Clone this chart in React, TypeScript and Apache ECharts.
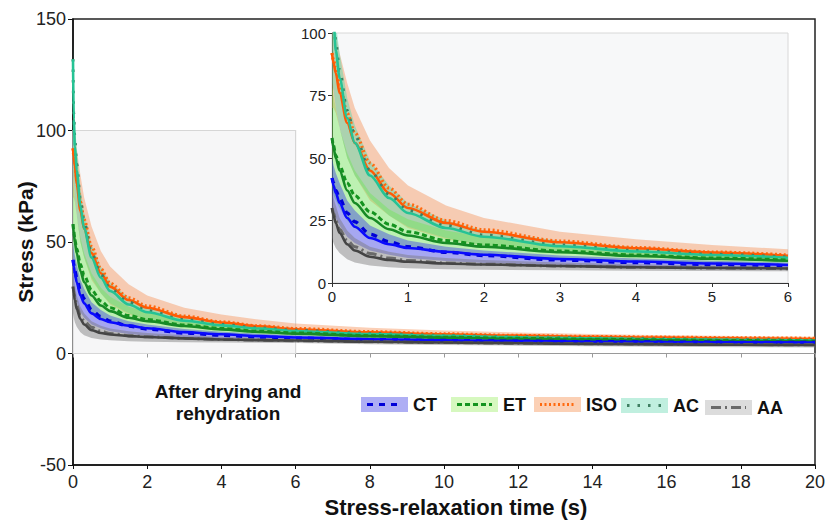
import React, { useEffect, useRef } from "react";
import * as echarts from "echarts";

// Stress-relaxation time (s)
const TIME = [0, 0.02, 0.05, 0.1, 0.2, 0.3, 0.5, 0.75, 1, 1.5, 2, 3, 4, 5, 6, 8, 10, 12, 14, 16, 18, 20];

// CT
const ctFit = [42, 39, 36, 32, 26, 22.5, 18, 15.5, 14, 12.5, 11.3, 9.6, 8.6, 7.8, 7.2, 6.4, 5.9, 5.6, 5.3, 5.1, 5.0, 4.9];
const ctMean = [42, 40, 37, 34, 28, 24.5, 19.5, 16.5, 14.5, 12.3, 11, 9.2, 8.2, 7.4, 6.9, 6.2, 5.8, 5.5, 5.3, 5.1, 5.0, 4.9];
const ctUpper = [50, 47, 44, 40, 33, 29, 23, 19.5, 17, 14.5, 13, 11, 9.8, 8.9, 8.2, 7.3, 6.7, 6.3, 6.0, 5.8, 5.6, 5.4];
const ctLower = [30, 28, 26, 23, 18.5, 16, 13, 11.3, 10, 8.8, 8, 7, 6.4, 5.9, 5.6, 5.1, 4.8, 4.6, 4.4, 4.3, 4.2, 4.1];

// ET
const etFit = [58, 54, 50, 45, 37, 32, 26, 21.5, 19, 16, 14.5, 12.3, 10.8, 9.7, 8.9, 7.8, 7.1, 6.6, 6.2, 5.9, 5.6, 5.4];
const etMean = [58, 55, 51, 47, 40, 35, 28.5, 23.5, 20.5, 17, 15.2, 12.8, 11.2, 10, 9.2, 8, 7.3, 6.8, 6.4, 6.1, 5.8, 5.6];
const etUpper = [80, 75, 70, 62, 52, 45, 36, 29.5, 25.5, 21, 18.5, 15.3, 13.3, 11.9, 10.9, 9.4, 8.5, 7.9, 7.4, 7.0, 6.7, 6.4];
const etLower = [38, 35, 33, 30, 25, 22, 18, 15.5, 14, 12, 11, 9.5, 8.5, 7.8, 7.2, 6.4, 5.9, 5.5, 5.2, 5.0, 4.8, 4.6];

// ISO
const isoFit = [92, 88, 84, 76, 64, 56, 45, 36, 30, 24, 20.5, 16.3, 13.9, 12.2, 10.9, 9.5, 8.6, 8.0, 7.5, 7.1, 6.8, 6.5];
const isoMean = [92, 89, 86, 79, 68, 60, 48, 38, 31.5, 25, 21.3, 16.8, 14.2, 12.4, 11.2, 9.8, 8.8, 8.1, 7.6, 7.3, 7.0, 6.8];
const isoUpper = [114, 106, 100, 92, 80, 70, 57, 46, 39, 31, 26, 20.5, 17.5, 15.2, 13.5, 11.5, 10.3, 9.4, 8.7, 8.2, 7.8, 7.5];
const isoLower = [70, 70, 68, 62, 50, 43, 33, 27, 22, 17.5, 15, 12, 10.4, 9.2, 8.4, 7.5, 6.9, 6.5, 6.2, 6.0, 5.8, 5.6];

// AC
const acFit = [132, 105, 93, 82, 66, 56, 43, 34, 28, 22, 18.5, 14.7, 12.6, 11.2, 10.1, 8.7, 7.9, 7.3, 6.8, 6.4, 6.1, 5.8];
const acMean = [132, 108, 96, 85, 69, 59, 45, 35.5, 29, 23, 19.2, 15.2, 13, 11.5, 10.4, 9, 8.1, 7.5, 7, 6.6, 6.3, 6.0];
const acUpper = [140, 118, 104, 92, 74, 63, 49, 39, 32, 25, 21, 16.8, 14.3, 12.6, 11.4, 9.8, 8.8, 8.1, 7.6, 7.2, 6.9, 6.6];
const acLower = [80, 77, 70, 62, 50, 43, 34, 27, 22.5, 18, 15, 12, 10.5, 9.4, 8.6, 7.6, 7, 6.5, 6.1, 5.8, 5.5, 5.2];

// AA
const aaFit = [30, 27, 24, 20, 15.5, 13, 10.5, 9.2, 8.5, 7.8, 7.4, 6.8, 6.3, 6.0, 5.8, 5.3, 4.9, 4.6, 4.3, 4.1, 3.9, 3.8];
const aaMean = [30, 28, 25, 21.5, 17, 14.5, 11.8, 10, 9, 8, 7.5, 6.8, 6.3, 6.0, 5.7, 5.3, 4.9, 4.6, 4.4, 4.2, 4.0, 3.9];
const aaUpper = [38, 34, 31, 26, 21, 18, 14.5, 12.5, 11.2, 10, 9.2, 8.2, 7.5, 7.0, 6.7, 6.2, 5.8, 5.5, 5.2, 5.0, 4.8, 4.7];
const aaLower = [18, 16, 14, 12, 9.5, 8.2, 7, 6.3, 5.9, 5.5, 5.3, 5.1, 4.9, 4.8, 4.7, 4.2, 3.8, 3.5, 3.2, 3.0, 2.8, 2.7];

const MAIN_X_TICKS = [0, 20, 2];
const MAIN_Y_TICKS = [-50, 150, 50];
const INSET_X_TICKS = [0, 6, 1];
const INSET_Y_TICKS = [0, 100, 25];
const ZOOM_BOX = { x0: 0, x1: 6, y0: 0, y1: 100 };

const LEGEND_NOTE = "After drying and\nrehydration";
const X_TITLE = "Stress-relaxation time (s)";
const Y_TITLE = "Stress (kPa)";

const FONT = "'Liberation Sans', Arial, Helvetica, sans-serif";

type Group = {
  name: string;
  fit: number[];
  mean: number[];
  upper: number[];
  lower: number[];
  fitColor: string;
  meanColor: string;
  dash: number[];
  meanWidth: number;
  band: string;
  swatch: string;
};

const GROUPS: Group[] = [
  { name: "ISO", fit: isoFit, mean: isoMean, upper: isoUpper, lower: isoLower, fitColor: "#ff5a05", meanColor: "#ff6a10", dash: [2, 2.5], meanWidth: 3.2, band: "rgba(245,140,80,0.42)", swatch: "#fbd0b5" },
  { name: "AC", fit: acFit, mean: acMean, upper: acUpper, lower: acLower, fitColor: "#25c394", meanColor: "#3f7f62", dash: [2.5, 8], meanWidth: 3, band: "rgba(60,220,170,0.40)", swatch: "#c0efdf" },
  { name: "ET", fit: etFit, mean: etMean, upper: etUpper, lower: etLower, fitColor: "#178a26", meanColor: "#14941f", dash: [5, 3], meanWidth: 3, band: "rgba(110,230,80,0.42)", swatch: "#d6f8bf" },
  { name: "CT", fit: ctFit, mean: ctMean, upper: ctUpper, lower: ctLower, fitColor: "#0a0aff", meanColor: "#0000d8", dash: [6, 6], meanWidth: 3.4, band: "rgba(45,45,230,0.40)", swatch: "#aeaef4" },
  { name: "AA", fit: aaFit, mean: aaMean, upper: aaUpper, lower: aaLower, fitColor: "#454545", meanColor: "#6a6a6a", dash: [10, 4, 2, 4], meanWidth: 3, band: "rgba(120,120,120,0.45)", swatch: "#dcdcdc" },
];

const LEGEND_ORDER = ["CT", "ET", "ISO", "AC", "AA"];

export default function App() {
  const ref = useRef<HTMLDivElement>(null);

  useEffect(() => {
    if (!ref.current) return;
    const chart = echarts.init(ref.current, null, { renderer: "svg" });

    const idxFor = (maxT: number) => TIME.map((t, i) => i).filter((i) => TIME[i] <= maxT);

    const bandSeries = (g: Group, xi: number, yi: number, maxT: number) => {
      const ids = idxFor(maxT);
      return {
        type: "custom",
        name: g.name + " band",
        xAxisIndex: xi,
        yAxisIndex: yi,
        clip: true,
        silent: true,
        z: 3,
        data: [[0, 0]],
        renderItem: (_params: any, api: any) => {
          const pts: number[][] = [];
          ids.forEach((i) => pts.push(api.coord([TIME[i], g.upper[i]])));
          [...ids].reverse().forEach((i) => pts.push(api.coord([TIME[i], g.lower[i]])));
          return { type: "polygon", shape: { points: pts }, style: { fill: g.band } };
        },
      };
    };

    const lineSeries = (g: Group, which: "fit" | "mean", xi: number, yi: number, maxT: number) => {
      const ids = idxFor(maxT);
      const arr = which === "fit" ? g.fit : g.mean;
      return {
        type: "line",
        name: g.name + " " + which,
        xAxisIndex: xi,
        yAxisIndex: yi,
        data: ids.map((i) => [TIME[i], arr[i]]),
        showSymbol: false,
        symbol: "none",
        smooth: 0.3,
        smoothMonotone: "x",
        clip: true,
        silent: true,
        z: 4,
        lineStyle:
          which === "fit"
            ? { color: g.fitColor, width: 2.6, type: "solid" }
            : { color: g.meanColor, width: g.meanWidth, type: g.dash, cap: "butt" },
      };
    };

    const series: any[] = [];
    // zoom region box in main plot
    series.push({
      type: "custom",
      name: "zoom box",
      xAxisIndex: 0,
      yAxisIndex: 0,
      silent: true,
      z: 1,
      data: [[0, 0]],
      renderItem: (_p: any, api: any) => {
        const a = api.coord([ZOOM_BOX.x0, ZOOM_BOX.y1]);
        const b = api.coord([ZOOM_BOX.x1, ZOOM_BOX.y0]);
        return {
          type: "rect",
          shape: { x: a[0], y: a[1], width: b[0] - a[0], height: b[1] - a[1] },
          style: { fill: "#f6f6f7", stroke: "#d6d6d6", lineWidth: 1.2 },
        };
      },
    });

    // main plot
    GROUPS.forEach((g) => series.push(bandSeries(g, 0, 0, 20)));
    GROUPS.forEach((g) => {
      series.push(lineSeries(g, "mean", 0, 0, 20));
      series.push(lineSeries(g, "fit", 0, 0, 20));
    });
    // inset
    GROUPS.forEach((g) => series.push(bandSeries(g, 2, 1, 6)));
    GROUPS.forEach((g) => {
      series.push(lineSeries(g, "mean", 2, 1, 6));
      series.push(lineSeries(g, "fit", 2, 1, 6));
    });

    // legend graphics
    const swX = [361, 451, 534, 621, 705];
    const swY = [397, 397, 397, 398, 400];
    const legendEls: any[] = [];
    LEGEND_ORDER.forEach((n, k) => {
      const g = GROUPS.find((gg) => gg.name === n)!;
      const x = swX[k];
      const y = swY[k];
      legendEls.push({
        type: "rect",
        shape: { x, y, width: 47, height: 15 },
        style: { fill: g.swatch, stroke: "none" },
        silent: true,
      });
      legendEls.push({
        type: "line",
        shape: { x1: x + 6, y1: y + 7.5, x2: x + 41, y2: y + 7.5 },
        style: { stroke: g.meanColor, lineWidth: 3, lineDash: g.dash },
        silent: true,
      });
      legendEls.push({
        type: "text",
        x: x + 52,
        y: y + 8,
        style: {
          text: n,
          fontSize: 18,
          fontWeight: "bold",
          fontFamily: FONT,
          fill: "#111",
          align: "left",
          verticalAlign: "middle",
        },
        silent: true,
      });
    });
    legendEls.push({
      type: "text",
      x: 228,
      y: 402.5,
      style: {
        text: LEGEND_NOTE,
        fontSize: 19,
        fontWeight: "bold",
        fontFamily: FONT,
        fill: "#111",
        align: "center",
        verticalAlign: "middle",
        lineHeight: 22,
      },
      silent: true,
    });

    const option: any = {
      animation: false,
      backgroundColor: "#ffffff",
      textStyle: { fontFamily: FONT },
      grid: [
        { left: 73, top: 19, width: 742, height: 446, show: true, borderColor: "#222", borderWidth: 1.5, backgroundColor: "transparent", containLabel: false, outerBoundsMode: "none" },
        { left: 332, top: 33, width: 456, height: 250, show: true, borderColor: "#d8d8d8", borderWidth: 1, backgroundColor: "#f7f8f9", containLabel: false, outerBoundsMode: "none" },
      ],
      xAxis: [
        {
          gridIndex: 0,
          type: "value",
          min: MAIN_X_TICKS[0],
          max: MAIN_X_TICKS[1],
          interval: MAIN_X_TICKS[2],
          position: "bottom",
          axisLine: { show: true, onZero: false, lineStyle: { color: "#111", width: 1.5 } },
          axisTick: { show: true, length: 4, lineStyle: { color: "#111" } },
          axisLabel: { show: true, fontSize: 18, color: "#222", margin: 8, fontFamily: FONT },
          splitLine: { show: false },
          name: X_TITLE,
          nameLocation: "middle",
          nameGap: 31,
          nameTextStyle: { fontSize: 22, fontWeight: "bold", color: "#111", fontFamily: FONT, padding: [0, 0, 0, 24] },
        },
        {
          gridIndex: 0,
          type: "value",
          min: MAIN_X_TICKS[0],
          max: MAIN_X_TICKS[1],
          interval: MAIN_X_TICKS[2],
          position: "top",
          axisLine: { show: true, onZero: true, lineStyle: { color: "#9a9a9a", width: 1 } },
          axisTick: { show: true, inside: true, length: 4, lineStyle: { color: "#9a9a9a" } },
          axisLabel: { show: false },
          splitLine: { show: false },
        },
        {
          gridIndex: 1,
          type: "value",
          min: INSET_X_TICKS[0],
          max: INSET_X_TICKS[1],
          interval: INSET_X_TICKS[2],
          axisLine: { show: true, onZero: false, lineStyle: { color: "#333", width: 1 } },
          axisTick: { show: true, length: 4, lineStyle: { color: "#333" } },
          axisLabel: { show: true, fontSize: 15, color: "#222", margin: 6, fontFamily: FONT },
          splitLine: { show: false },
        },
      ],
      yAxis: [
        {
          gridIndex: 0,
          type: "value",
          min: MAIN_Y_TICKS[0],
          max: MAIN_Y_TICKS[1],
          interval: MAIN_Y_TICKS[2],
          axisLine: { show: true, onZero: false, lineStyle: { color: "#111", width: 1.5 } },
          axisTick: { show: true, length: 5, lineStyle: { color: "#111" } },
          axisLabel: { show: true, fontSize: 18, color: "#222", margin: 7, fontFamily: FONT },
          splitLine: { show: false },
          name: Y_TITLE,
          nameLocation: "middle",
          nameGap: 37,
          nameMoveOverlap: false,
          nameTextStyle: { fontSize: 21, fontWeight: "bold", color: "#111", fontFamily: FONT },
        },
        {
          gridIndex: 1,
          type: "value",
          min: INSET_Y_TICKS[0],
          max: INSET_Y_TICKS[1],
          interval: INSET_Y_TICKS[2],
          axisLine: { show: true, onZero: false, lineStyle: { color: "#333", width: 1 } },
          axisTick: { show: true, length: 4, lineStyle: { color: "#333" } },
          axisLabel: { show: true, fontSize: 15, color: "#222", margin: 6, fontFamily: FONT },
          splitLine: { show: false },
        },
      ],
      series,
      graphic: { elements: legendEls },
    };

    chart.setOption(option);
    return () => chart.dispose();
  }, []);

  return <div ref={ref} style={{ position: "absolute", left: 0, top: 0, width: 840, height: 522 }} />;
}
